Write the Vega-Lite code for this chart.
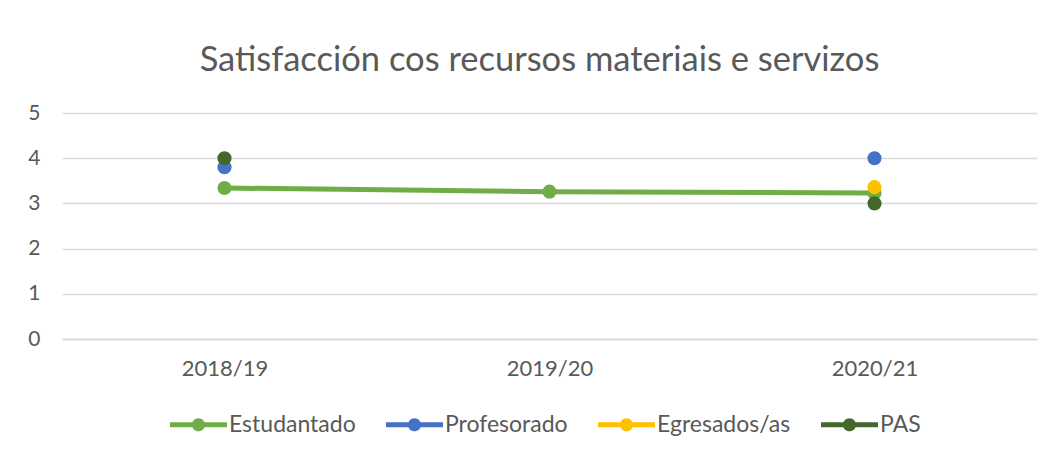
{
  "$schema": "https://vega.github.io/schema/vega-lite/v6.json",
  "width": 975,
  "height": 226,
  "autosize": {"type": "none"},
  "padding": {"left": 62, "top": 113, "right": 15, "bottom": 116},
  "background": "white",
  "title": {
    "text": "Satisfacción cos recursos materiais e servizos",
    "font": "Lato",
    "fontSize": 34.5,
    "fontWeight": "normal",
    "color": "#595959",
    "anchor": "middle",
    "offset": 24,
    "dx": -10
  },
  "data": {
    "values": [
      {"curso": "2018/19", "grupo": "Estudantado", "valor": 3.34, "ord": 1},
      {"curso": "2019/20", "grupo": "Estudantado", "valor": 3.26, "ord": 1},
      {"curso": "2020/21", "grupo": "Estudantado", "valor": 3.23, "ord": 1},
      {"curso": "2018/19", "grupo": "Profesorado", "valor": 3.8, "ord": 2},
      {"curso": "2020/21", "grupo": "Profesorado", "valor": 4.0, "ord": 2},
      {"curso": "2020/21", "grupo": "Egresados/as", "valor": 3.36, "ord": 3},
      {"curso": "2018/19", "grupo": "PAS", "valor": 4.0, "ord": 4},
      {"curso": "2020/21", "grupo": "PAS", "valor": 3.0, "ord": 4}
    ]
  },
  "encoding": {
    "x": {
      "field": "curso",
      "type": "nominal",
      "scale": {"paddingInner": 0, "paddingOuter": 0},
      "axis": {
        "title": null,
        "labelAngle": 0,
        "labelFont": "Lato",
        "labelFontSize": 22,
        "labelColor": "#595959",
        "labelPadding": 19,
        "ticks": false,
        "domainColor": "#D9D9D9",
        "domainWidth": 1.5,
        "grid": false
      }
    },
    "y": {
      "field": "valor",
      "type": "quantitative",
      "scale": {"domain": [0, 5]},
      "axis": {
        "title": null,
        "values": [0, 1, 2, 3, 4, 5],
        "labelFont": "Lato",
        "labelFontSize": 21,
        "labelColor": "#595959",
        "labelPadding": 22,
        "ticks": false,
        "domain": false,
        "gridColor": "#D9D9D9",
        "gridWidth": 1.5
      }
    },
    "color": {
      "field": "grupo",
      "type": "nominal",
      "scale": {
        "domain": ["Estudantado", "Profesorado", "Egresados/as", "PAS"],
        "range": ["#70AD47", "#4472C4", "#FFC000", "#43682B"]
      },
      "legend": {
        "title": null,
        "orient": "none",
        "direction": "horizontal",
        "legendX": 108,
        "legendY": 283,
        "symbolType": "M-1,-0.088 L1,-0.088 L1,0.088 L-1,0.088 Z M-0.23,0 A0.23,0.23 0 1,1 0.23,0 A0.23,0.23 0 1,1 -0.23,0 Z",
        "symbolSize": 3249,
        "symbolStrokeWidth": 0,
        "symbolOpacity": 1,
        "labelFont": "Lato",
        "labelFontSize": 23,
        "labelColor": "#595959",
        "labelOffset": 2,
        "columnPadding": 30,
        "encode": {
          "symbols": {
            "update": {
              "fill": {"scale": "color", "field": "value"},
              "stroke": {"value": "transparent"},
              "strokeWidth": {"value": 0},
              "opacity": {"value": 1}
            }
          }
        }
      }
    }
  },
  "layer": [
    {
      "transform": [{"filter": "datum.grupo === 'Estudantado'"}],
      "mark": {"type": "line", "strokeWidth": 5}
    },
    {
      "mark": {"type": "point", "filled": true, "opacity": 1, "size": 200},
      "encoding": {
        "order": {"field": "ord", "type": "quantitative"}
      }
    }
  ],
  "config": {"view": {"stroke": null}}
}
